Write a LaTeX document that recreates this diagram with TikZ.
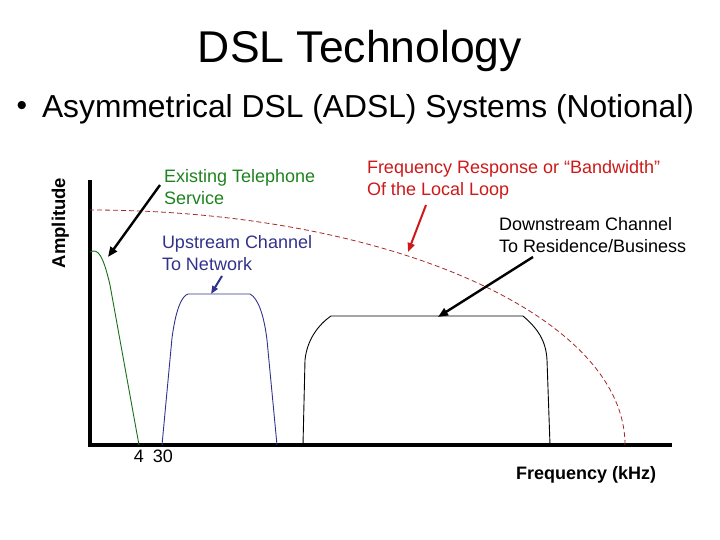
\documentclass[tikz,border=0pt]{standalone}
\usepackage{fontspec}
\setmainfont{Liberation Sans}
\usepackage{tikz}
\usetikzlibrary{arrows.meta}

\definecolor{telgreen}{RGB}{30,130,30}
\definecolor{upblue}{RGB}{50,50,140}
\definecolor{looptext}{RGB}{205,25,25}
\definecolor{loopdash}{RGB}{165,40,40}

\begin{document}
\begin{tikzpicture}[x=1pt, y=-1pt,
  every node/.style={inner sep=0pt, outer sep=0pt},
  lbl/.style={anchor=north west, align=left, font=\fontsize{18}{22}\selectfont},
  pointer/.style={line width=2.4pt, -{Triangle[length=10pt,width=8pt]}},
  band/.style={line width=0.9pt}]
\useasboundingbox (0,0) rectangle (720,540);

\path (360,63) node[anchor=base, font=\fontsize{44.5}{50}\selectfont] (title) {DSL Technology};
\path (22,116) node[anchor=base, font=\fontsize{30}{36}\selectfont] (bullet) {•};
\path (42,118) node[anchor=base west, font=\fontsize{31.8}{36}\selectfont] (sub) {Asymmetrical DSL (ADSL) Systems (Notional)};

% axes
\coordinate (orig) at (90,445);
\coordinate (ytop) at (90,180);
\coordinate (xend) at (672,445);
\draw[line width=4pt] (ytop) -- (orig) -- (xend);
\path (65,223) node[anchor=base, rotate=90, font=\bfseries\fontsize{18.5}{20}\selectfont] (amp) {Amplitude};
\path (139,462) node[anchor=base, font=\fontsize{18}{20}\selectfont] (f4) {4};
\path (163,462) node[anchor=base, font=\fontsize{18}{20}\selectfont] (f30) {30};
\path (516,479) node[anchor=base west, font=\bfseries\fontsize{18}{20}\selectfont] (freq) {Frequency (kHz)};

% local loop response
\draw[loopdash, line width=0.8pt, dash pattern=on 5pt off 3pt] (625,445) arc[start angle=0, end angle=-90, x radius=535, y radius=235];

% bands
\draw[band, telgreen!85!black] (90,252) .. controls (98,248) and (103,255) .. (110,285) -- (139,445);
\draw[band, upblue] (162,445) -- (172,338) .. controls (176,308) and (182,296) .. (188,294) -- (250,294)
  .. controls (258,298) and (264,315) .. (267,340) -- (277,445);
\draw[band] (303,445) -- (305,360) .. controls (307,340) and (318,325) .. (331,316) -- (523,316)
  .. controls (537,328) and (546,340) .. (547,360) -- (550,445);

% labels
\node[lbl, text=telgreen] (tel) at (164,169) {Existing Telephone\\Service};
\node[lbl, text=upblue] (up) at (162,235) {Upstream Channel\\To Network};
\node[lbl, text=looptext] (loop) at (367,160) {Frequency Response or “Bandwidth”\\Of the Local Loop};
\node[lbl] (down) at (499,217) {Downstream Channel\\To Residence/Business};

% pointers
\coordinate (telfrom) at (160,185);
\coordinate (telto) at (108,257);
\coordinate (upfrom) at (222,276);
\coordinate (upto) at (211,294);
\coordinate (loopfrom) at (426,205);
\coordinate (loopto) at (408,252);
\coordinate (downfrom) at (533,257);
\coordinate (downto) at (438,317);
\draw[pointer] (telfrom) -- (telto);
\draw[pointer, upblue, line width=2pt, -{Triangle[length=8pt,width=6pt]}] (upfrom) -- (upto);
\draw[pointer, looptext, line width=2pt, -{Triangle[length=9pt,width=7pt]}] (loopfrom) -- (loopto);
\draw[pointer] (downfrom) -- (downto);
\end{tikzpicture}
\end{document}
